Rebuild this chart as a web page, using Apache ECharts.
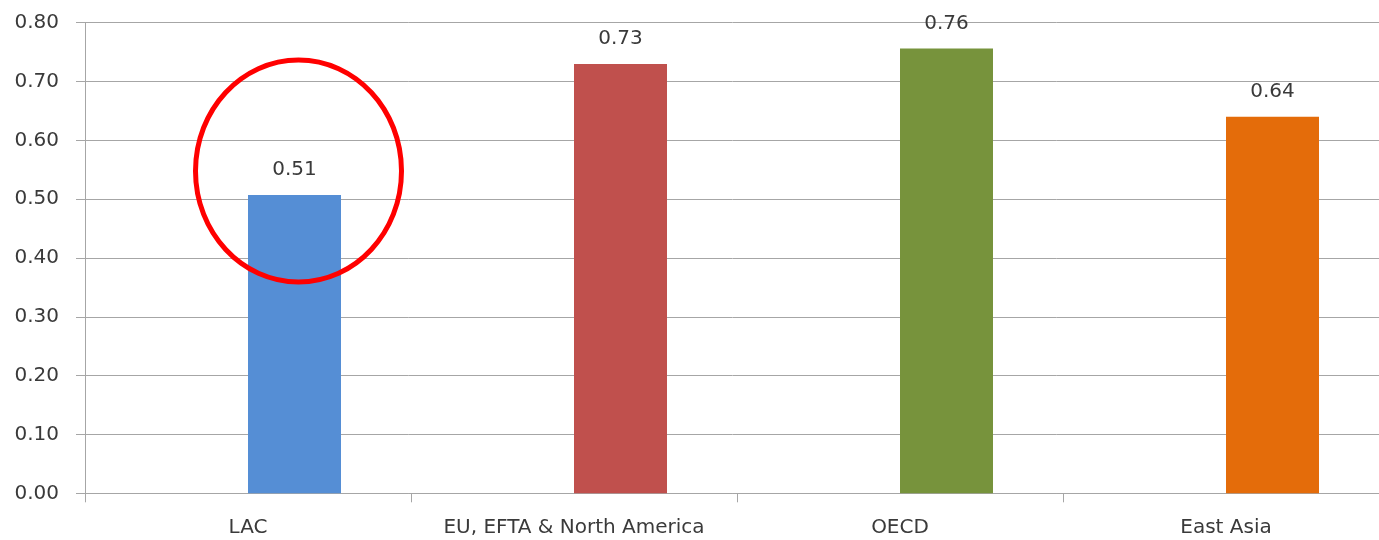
<!DOCTYPE html>
<html>
<head>
<meta charset="utf-8">
<script src="https://cdn.jsdelivr.net/npm/echarts@6/dist/echarts.min.js"></script>
<style>
html,body{margin:0;padding:0;background:#fff;}
#chart{width:1379px;height:540px;}
</style>
</head>
<body>
<div id="chart"></div>
<script>
const categories = ['LAC', 'EU, EFTA & North America', 'OECD', 'East Asia'];
const values = [0.507, 0.73, 0.756, 0.64];
const barColors = ['#558ED5', '#C0504D', '#77933C', '#E46C0A'];
const yTicks = { min: 0, max: 0.8, interval: 0.1 };
const highlightCategory = 'LAC';
const highlightCenterValue = 0.548;

const FONT = 'DejaVu Sans';
const chart = echarts.init(document.getElementById('chart'));
const option = {
  animation: false,
  backgroundColor: '#fff',
  grid: { left: 85, top: 22.7, bottom: 46.7, width: 1304, containLabel: false, outerBoundsMode: 'none' },
  xAxis: {
    type: 'category',
    data: categories,
    boundaryGap: true,
    axisLine: { show: true, lineStyle: { color: '#A6A6A6', width: 1 } },
    axisTick: { show: true, length: 9, lineStyle: { color: '#A6A6A6' } },
    axisLabel: { color: '#3a3a3a', fontFamily: FONT, fontSize: 20, margin: 24, interval: 0 },
    splitLine: { show: false }
  },
  yAxis: {
    type: 'value',
    min: yTicks.min, max: yTicks.max, interval: yTicks.interval,
    axisLine: { show: true, lineStyle: { color: '#A6A6A6', width: 1 } },
    axisTick: { show: true, length: 9, lineStyle: { color: '#A6A6A6' } },
    axisLabel: { color: '#3a3a3a', fontFamily: FONT, fontSize: 20, margin: 26,
      formatter: v => v.toFixed(2) },
    splitLine: { show: true, lineStyle: { color: '#A6A6A6', width: 1 } }
  },
  series: [
    { type: 'bar', data: categories.map(() => null), barWidth: 93, barGap: '0%', silent: true },
    {
      type: 'bar',
      barWidth: 93, barGap: '0%',
      data: values.map((v, i) => ({ value: v, itemStyle: { color: barColors[i] } })),
      label: {
        show: true, position: 'top', distance: 15,
        color: '#3a3a3a', fontFamily: FONT, fontSize: 20,
        formatter: p => p.value.toFixed(2)
      }
    }
  ]
};
chart.setOption(option);

// Red annotation ellipse around the highlighted bar
const ci = categories.indexOf(highlightCategory);
const center = chart.convertToPixel({ gridIndex: 0 }, [ci, highlightCenterValue]);
chart.setOption({
  graphic: [{
    type: 'ellipse',
    shape: { cx: center[0] + 93 / 2 + 4, cy: center[1], rx: 103, ry: 111 },
    style: { fill: 'none', stroke: '#FF0000', lineWidth: 5 },
    z: 100
  }]
});
</script>
</body>
</html>
